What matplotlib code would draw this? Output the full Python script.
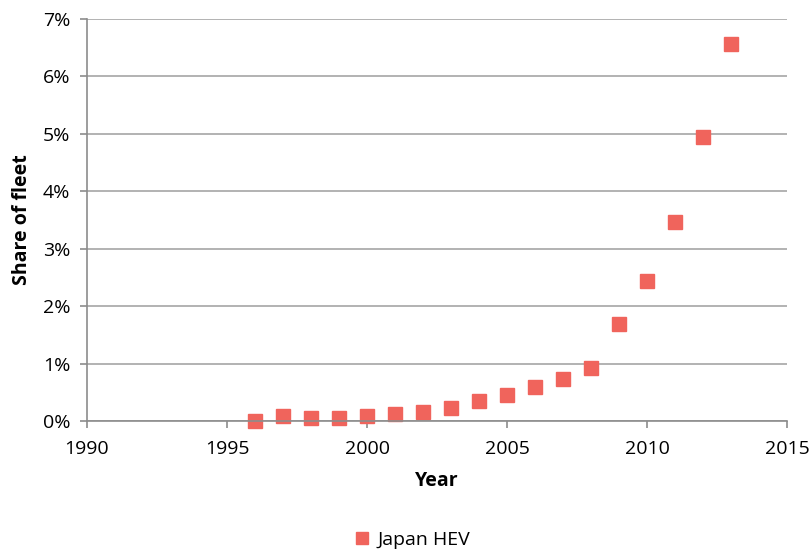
import matplotlib.pyplot as plt
from matplotlib.ticker import FuncFormatter

# Japan HEV share of fleet (%)
years = [1996, 1997, 1998, 1999, 2000, 2001, 2002, 2003, 2004,
         2005, 2006, 2007, 2008, 2009, 2010, 2011, 2012, 2013]
share = [0.00, 0.09, 0.05, 0.05, 0.09, 0.12, 0.16, 0.23, 0.35,
         0.45, 0.59, 0.73, 0.92, 1.69, 2.44, 3.47, 4.95, 6.56]
x_ticks = [1990, 1995, 2000, 2005, 2010, 2015]
y_ticks = [0, 1, 2, 3, 4, 5, 6, 7]

plt.rcParams['font.family'] = ['Open Sans', 'DejaVu Sans']

fig = plt.figure(figsize=(8.12, 5.52), dpi=100)
ax = fig.add_axes([87/812, (552-421)/552, 700/812, 402/552])

ax.plot(years, share, linestyle='none', marker='s', markersize=9.5,
        color='#F0645C', markeredgecolor='#F0645C', label='Japan HEV', clip_on=False)

ax.set_xlim(1990, 2015)
ax.set_ylim(0, 7)
ax.set_xticks(x_ticks)
ax.set_yticks(y_ticks)
ax.yaxis.set_major_formatter(FuncFormatter(lambda v, p: f"{int(v)}%"))

ax.grid(axis='y', color='#A6A6A6', linewidth=1.2)
ax.set_axisbelow(True)
for s in ['top', 'right']:
    ax.spines[s].set_visible(False)
for s in ['left', 'bottom']:
    ax.spines[s].set_color('#8C8C8C')
    ax.spines[s].set_linewidth(1.2)
ax.tick_params(axis='both', colors='#8C8C8C', length=5, width=1.2,
               labelcolor='black', labelsize=14)
ax.tick_params(axis='x', pad=9)
ax.tick_params(axis='y', pad=7)

ax.set_xlabel('Year', fontsize=14, fontweight='bold', labelpad=9)
ax.set_ylabel('Share of fleet', fontsize=14, fontweight='bold', labelpad=8)

fig.legend(loc='center', bbox_to_anchor=(0.5, (552-540)/552), frameon=False,
           fontsize=14, handletextpad=-0.2, markerscale=0.95, numpoints=1)

fig.savefig('out.png', dpi=100)
